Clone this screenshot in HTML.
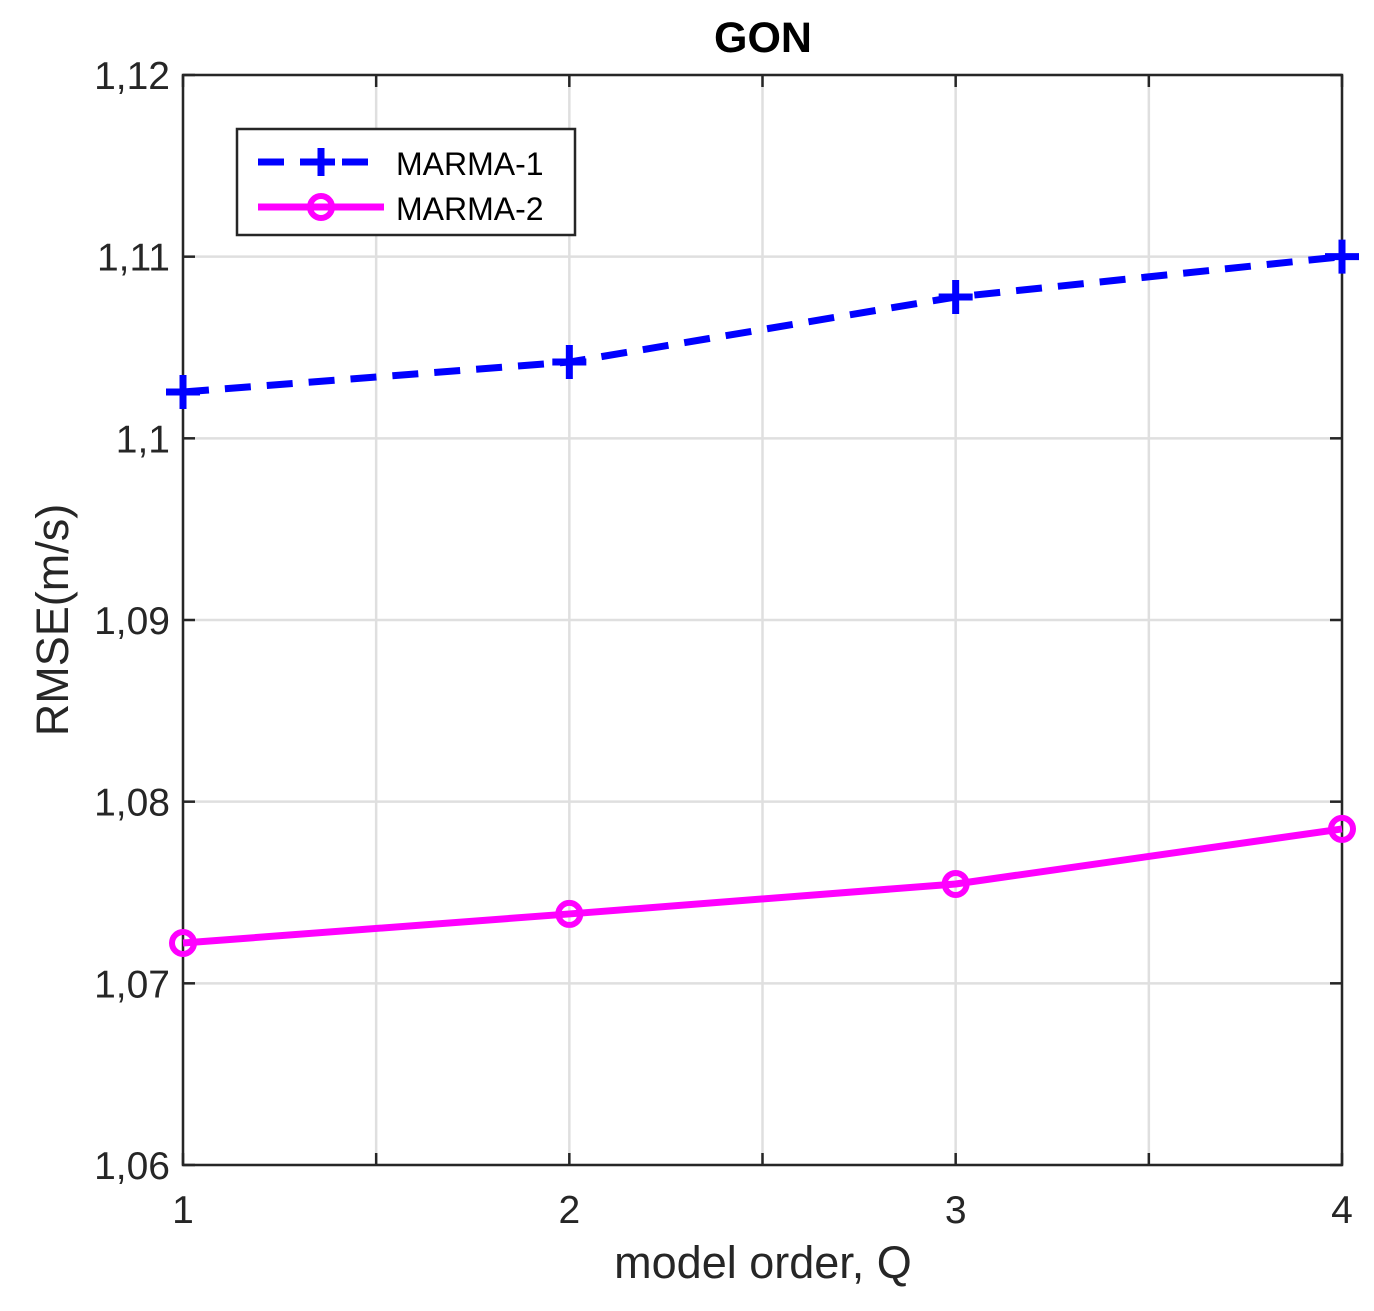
<!DOCTYPE html>
<html><head><meta charset="utf-8"><style>
html,body{margin:0;padding:0;background:#fff;}
svg{display:block;font-family:"Liberation Sans",Arial,sans-serif;}
</style></head><body>
<svg id="chart" width="1374" height="1311" viewBox="0 0 1374 1311">
<g id="grid"></g>
<g id="axes"></g>
<g id="series"></g>
<text x="763" y="52" text-anchor="middle" font-size="43" font-weight="bold">GON</text>
<text x="763" y="1278" text-anchor="middle" font-size="45" fill="#262626">model order, Q</text>
<text transform="translate(68,620) rotate(-90)" text-anchor="middle" font-size="45" fill="#262626">RMSE(m/s)</text>
<g>
<rect x="237" y="129" width="338" height="106" fill="#fff" stroke="#262626" stroke-width="2.5"/>
<g>
<line x1="258" y1="162" x2="384" y2="162" stroke="#0000ff" stroke-width="7" stroke-dasharray="26,16"/>
<path d="M307 162h28M321 148v28" stroke="#0000ff" stroke-width="7"/>
<text x="396" y="175" font-size="32" fill="#000">MARMA-1</text>
</g>
<g>
<line x1="258" y1="207" x2="384" y2="207" stroke="#ff00ff" stroke-width="7"/>
<circle cx="321" cy="207" r="11" fill="none" stroke="#ff00ff" stroke-width="6"/>
<text x="396" y="220" font-size="32" fill="#000">MARMA-2</text>
</g>
</g>
</svg>
<script>
const categories=[1,2,3,4];
const marma1=[1.10255,1.1042,1.10778,1.1100];
const marma2=[1.07222,1.07382,1.07547,1.0785];
const yTicks=[1.06,1.07,1.08,1.09,1.10,1.11,1.12];
const yTickLabels=["1,06","1,07","1,08","1,09","1,1","1,11","1,12"];
const xGrid=[1,1.5,2,2.5,3,3.5,4];
const NS="http://www.w3.org/2000/svg";
const L=183,R=1342,T=75,B=1165;
const xs=v=>L+(v-1)/(4-1)*(R-L);
const ys=v=>B-(v-1.06)/(0.06)*(B-T);
function mk(tag,attrs,parent){const e=document.createElementNS(NS,tag);for(const k in attrs)e.setAttribute(k,attrs[k]);parent.appendChild(e);return e;}
const grid=document.getElementById('grid'),axes=document.getElementById('axes'),series=document.getElementById('series');
mk('rect',{x:L,y:T,width:R-L,height:B-T,fill:'#fff'},grid);
xGrid.forEach(v=>{const l=mk('line',{x1:xs(v),y1:T,x2:xs(v),y2:B,stroke:'#dfdfdf','stroke-width':2.5},grid);

});
yTicks.forEach(v=>{const l=mk('line',{x1:L,y1:ys(v),x2:R,y2:ys(v),stroke:'#dfdfdf','stroke-width':2.5},grid);

});
mk('rect',{x:L,y:T,width:R-L,height:B-T,fill:'none',stroke:'#262626','stroke-width':2.5},axes);
xGrid.forEach(v=>{mk('line',{x1:xs(v),y1:B,x2:xs(v),y2:B-12,stroke:'#262626','stroke-width':2.5},axes);mk('line',{x1:xs(v),y1:T,x2:xs(v),y2:T+12,stroke:'#262626','stroke-width':2.5},axes);});
categories.forEach(v=>{const t=mk('text',{x:xs(v),y:B+58,'text-anchor':'middle','font-size':39,fill:'#262626'},axes);t.textContent=v;

});
yTicks.forEach((v,i)=>{mk('line',{x1:L,y1:ys(v),x2:L+12,y2:ys(v),stroke:'#262626','stroke-width':2.5},axes);mk('line',{x1:R,y1:ys(v),x2:R-12,y2:ys(v),stroke:'#262626','stroke-width':2.5},axes);
const t=mk('text',{x:L-13,y:ys(v)+14,'text-anchor':'end','font-size':39,fill:'#262626'},axes);t.textContent=yTickLabels[i];

});
const p1=categories.map((c,i)=>xs(c)+','+ys(marma1[i])).join(' ');
const l1=mk('polyline',{points:p1,fill:'none',stroke:'#0000ff','stroke-width':7,'stroke-dasharray':'26,16'},series);


const p2=categories.map((c,i)=>xs(c)+','+ys(marma2[i])).join(' ');
const l2=mk('polyline',{points:p2,fill:'none',stroke:'#ff00ff','stroke-width':7},series);


categories.forEach((c,i)=>{const x=xs(c),y=ys(marma1[i]);
const m=mk('path',{d:`M${x-17} ${y}h34M${x} ${y-17}v34`,stroke:'#0000ff','stroke-width':7},series);


const c2=mk('circle',{cx:x,cy:ys(marma2[i]),r:11,fill:'none',stroke:'#ff00ff','stroke-width':6},series);

});
</script>
</body></html>
